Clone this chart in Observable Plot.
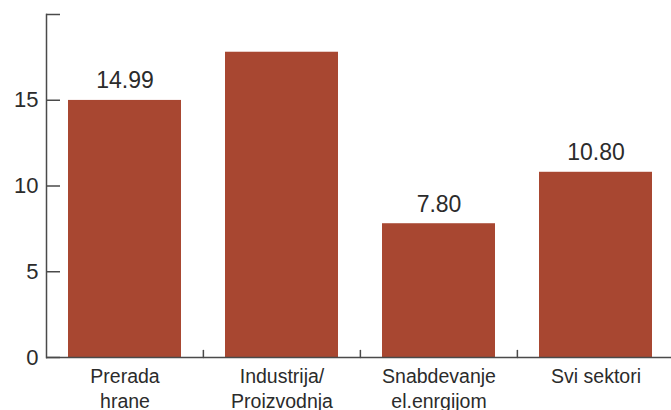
<!DOCTYPE html>
<html>
<head>
<meta charset="utf-8">
<script src="https://cdn.jsdelivr.net/npm/d3@7"></script>
<script src="https://cdn.jsdelivr.net/npm/@observablehq/plot@0.6"></script>
<style>
  body { margin: 0; background: #fff; }
  #chart svg { display: block; font-family: "Liberation Sans", Arial, sans-serif; }
</style>
</head>
<body>
<div id="chart"></div>
<script>
const categories = ["Prerada\nhrane", "Industrija/\nProizvodnja", "Snabdevanje\nel.enrgijom", "Svi sektori"];
const values = [14.99, 17.8, 7.80, 10.80];
const valueLabels = ["14.99", "", "7.80", "10.80"];
const yTicks = [0, 5, 10, 15, 20];
const yTickLabels = ["0", "5", "10", "15", ""];

const data = categories.map((c, i) => ({cat: c, value: values[i], label: valueLabels[i]}));
const labeled = data.filter(d => d.label !== "");

const W = 671, H = 410;
const xRange = [46, 675];
const step = (xRange[1] - xRange[0]) / categories.length;
const axisColor = "#4a4a4a";
const textColor = "#2b2b2b";

const chart = Plot.plot({
  width: W,
  height: H,
  marginLeft: 46,
  marginRight: 0,
  marginTop: 14,
  marginBottom: 53,
  style: {fontFamily: "Liberation Sans, Arial, sans-serif", color: textColor, background: "#fff"},
  x: {domain: categories, range: xRange, paddingInner: 0.28, paddingOuter: 0.14, label: null},
  y: {domain: [0, 20], label: null},
  marks: [
    Plot.barY(data, {x: "cat", y: "value", fill: "#a84731"}),
    Plot.frame({anchor: "left", stroke: axisColor, strokeWidth: 1.5}),
    Plot.ruleY([0], {stroke: axisColor, strokeWidth: 1.5}),
    Plot.axisY({ticks: yTicks, tickSize: -14, tickFormat: () => "", stroke: axisColor, strokeWidth: 1.5}),
    Plot.axisY({ticks: yTicks, tickSize: 0, tickPadding: 8, fontSize: 22, fill: textColor,
      tickFormat: d => yTickLabels[yTicks.indexOf(d)]}),
    Plot.vector(categories.slice(1), {
      x: d => d, y: () => 0, length: 7, anchor: "start", dx: -step / 2,
      stroke: axisColor, strokeWidth: 1.5,
      shape: {draw(context, l) { context.moveTo(0, 0); context.lineTo(0, -l); }}
    }),
    Plot.axisX({tickSize: 0, tickPadding: 7, fontSize: 19.5, lineHeight: 1.3, fill: textColor}),
    Plot.text(labeled, {x: "cat", y: "value", text: "label", fontSize: 23, fill: textColor, lineAnchor: "bottom", dy: -12})
  ]
});
document.getElementById("chart").appendChild(chart);
</script>
</body>
</html>
